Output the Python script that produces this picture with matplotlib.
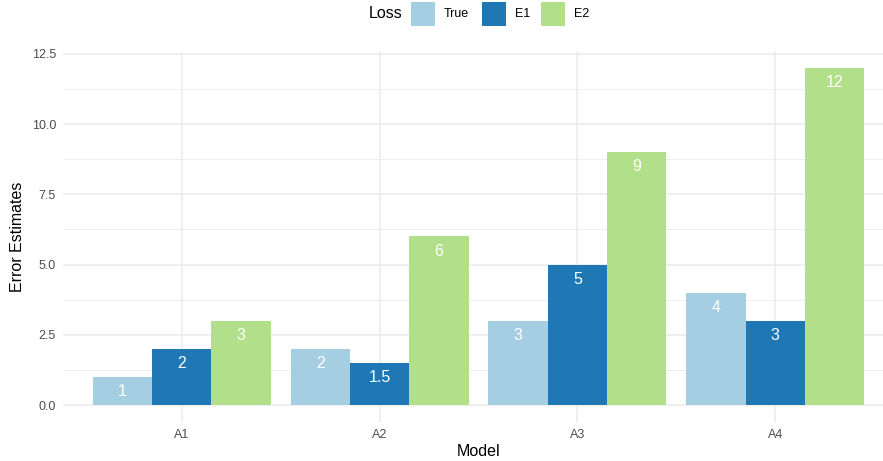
import matplotlib
matplotlib.use("Agg")
import matplotlib.pyplot as plt
import matplotlib.patches as patches
import numpy as np

plt.rcParams["font.family"] = ["Liberation Sans", "DejaVu Sans"]

models = ["A1", "A2", "A3", "A4"]
series = ["True", "E1", "E2"]
true_vals = [1, 2, 3, 4]
e1_vals = [2, 1.5, 5, 3]
e2_vals = [3, 6, 9, 12]
colors = ["#A6CEE3", "#1F78B4", "#B2DF8A"]

values = [true_vals, e1_vals, e2_vals]

W, H = 883, 461
fig = plt.figure(figsize=(W / 100, H / 100), dpi=100)
# panel in pixel coords: x 63..894, y 51..422
ax = fig.add_axes([63 / W, 1 - 422 / H, 831 / W, 371 / H])

x = np.arange(1, len(models) + 1)
width = 0.3
for i, (name, vals) in enumerate(zip(series, values)):
    pos = x + (i - 1) * width
    ax.bar(pos, vals, width=width, color=colors[i], zorder=3, linewidth=0)
    for px, v in zip(pos, vals):
        ax.annotate(f"{v:g}", (px, v), xytext=(0, -10.5), textcoords="offset points",
                    ha="center", va="center", color="white", fontsize=11.5, zorder=4)

ax.set_xlim(0.4, 4.6)
ax.set_ylim(-0.6, 12.6)
ax.set_xticks(x)
ax.set_xticklabels(models)
ax.set_yticks([0, 2.5, 5, 7.5, 10, 12.5])
ax.set_yticklabels(["0.0", "2.5", "5.0", "7.5", "10.0", "12.5"])
ax.set_yticks([1.25, 3.75, 6.25, 8.75, 11.25], minor=True)

for s in ax.spines.values():
    s.set_visible(False)
ax.grid(True, which="major", color="#EBEBEB", linewidth=1.1, zorder=0)
ax.grid(True, which="minor", axis="y", color="#EBEBEB", linewidth=0.6, zorder=0)
ax.tick_params(which="both", length=0, labelsize=9, labelcolor="#4D4D4D", pad=5)
ax.set_axisbelow(True)

ax.set_xlabel("Model", fontsize=11.5, labelpad=2)
ax.set_ylabel("Error Estimates", fontsize=11.5, labelpad=5)

# legend across the top
fig.text(402 / W, 1 - 14 / H, "Loss", ha="right", va="center", fontsize=11.5)
key_x = [411, 482, 541]
for name, c, kx in zip(series, colors, key_x):
    fig.patches.append(patches.Rectangle((kx / W, 1 - 26 / H), 24 / W, 24 / H,
                                         transform=fig.transFigure, color=c, linewidth=0))
    fig.text((kx + 33) / W, 1 - 14 / H, name, ha="left", va="center", fontsize=9)

fig.savefig("out.png", dpi=100)
